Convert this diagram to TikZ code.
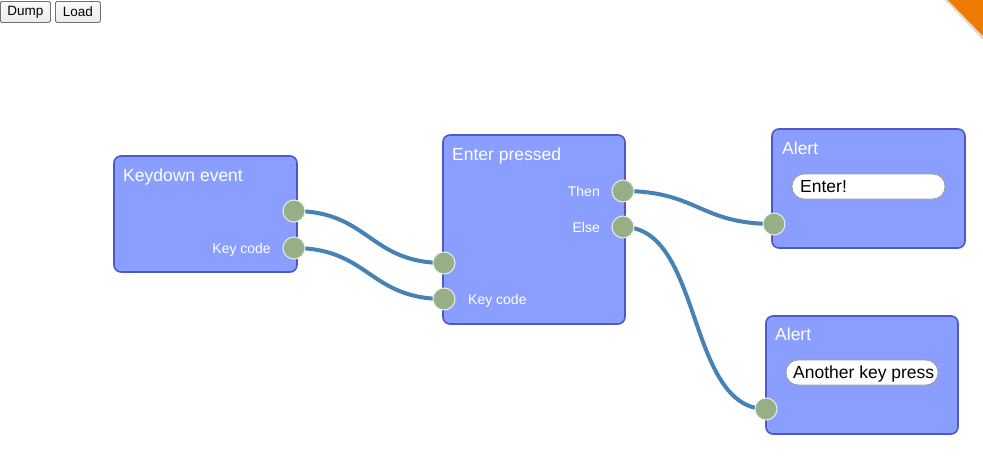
\documentclass[tikz,border=0pt]{standalone}
\usepackage{fontspec}
\setmainfont{Liberation Sans}
\pgfdeclarelayer{bg}
\pgfdeclarelayer{conn}
\pgfsetlayers{bg,conn,main}
\definecolor{boxfill}{RGB}{138,158,255}
\definecolor{boxline}{RGB}{78,88,200}
\definecolor{portfill}{RGB}{150,175,135}
\definecolor{wire}{RGB}{70,130,180}
\definecolor{ribbon}{RGB}{238,122,0}
\definecolor{btnline}{RGB}{112,112,112}
\tikzset{
  blockbox/.style={draw=boxline, line width=1.6pt, fill=boxfill, rounded corners=7pt},
  port/.style={circle, draw=white!85!gray, line width=1pt, fill=portfill, minimum size=22pt, inner sep=0pt},
  wireline/.style={draw=wire, line width=4pt},
  title/.style={anchor=base west, text=white, font=\fontsize{17.5}{20}\selectfont, inner sep=0pt},
  plabel/.style={text=white, font=\fontsize{14}{16}\selectfont, inner sep=0pt},
  field/.style={draw=gray!80, line width=0.8pt, fill=white, rounded corners=12pt},
  fieldtext/.style={anchor=base west, text=black, font=\fontsize{17.5}{20}\selectfont, inner sep=0pt},
  btn/.style={draw=btnline, line width=0.8pt, top color=white!96!gray, bottom color=white!85!gray, rounded corners=1.5pt, font=\fontsize{13.5}{15}\selectfont, inner sep=0pt, minimum height=21pt, anchor=north west}
}
\begin{document}
\begin{tikzpicture}[x=1pt,y=-1pt]
\useasboundingbox (0,0) rectangle (983,475);
% boxes
\begin{pgfonlayer}{bg}
\fill[white] (0,0) rectangle (983,475);
\draw[blockbox] (114,156) rectangle (297,272);
\draw[blockbox] (443,135) rectangle (625,324);
\draw[blockbox] (772,129) rectangle (965,248);
\draw[blockbox] (766,316) rectangle (958,434);
\end{pgfonlayer}
% buttons
\node[btn, minimum width=50pt] (dump) at (0,1) {Dump};
\node[btn, minimum width=45pt] (load) at (55,1) {Load};
% ribbon
\fill[gray!30] (945,0) -- (983,0) -- (983,40) -- cycle;
\fill[ribbon] (948,0) -- (983,0) -- (983,36) -- cycle;
% titles
\node[title] (t1) at (123,181) {Keydown event};
\node[title] (t2) at (452,160) {Enter pressed};
\node[title] (t3) at (782,154) {Alert};
\node[title] (t4) at (775,340) {Alert};
% fields
\draw[field] (792,174) rectangle (945,199);
\node[fieldtext] (f1) at (800,192) {Enter!};
\draw[field] (786,360) rectangle (938,385);
\begin{scope}
\clip[rounded corners=12pt] (786,360) rectangle (936,385);
\node[fieldtext] (f2) at (793,378) {Another key press};
\end{scope}
% ports
\node[port] (k1) at (294,211) {};
\node[port] (k2) at (294,248) {};
\node[port] (e1) at (444,263) {};
\node[port] (e2) at (444,299) {};
\node[port] (th) at (623,191) {};
\node[port] (el) at (623,227) {};
\node[port] (a1) at (774,224) {};
\node[port] (a2) at (766,409) {};
% port labels
\node[plabel, anchor=base east] (lk) at (271,253) {Key code};
\node[plabel, anchor=base west] (le) at (468,304) {Key code};
\node[plabel, anchor=base east] (lth) at (600,196) {Then};
\node[plabel, anchor=base east] (lel) at (600,232) {Else};
% wires
\begin{pgfonlayer}{conn}
\draw[wireline] (k1.center) .. controls +(75,0) and +(-75,0) .. (e1.center);
\draw[wireline] (k2.center) .. controls +(75,0) and +(-75,0) .. (e2.center);
\draw[wireline] (th.center) .. controls +(75,0) and +(-75,0) .. (a1.center);
\draw[wireline] (el.center) .. controls +(80,0) and +(-80,0) .. (a2.center);
\end{pgfonlayer}
\end{tikzpicture}
\end{document}
